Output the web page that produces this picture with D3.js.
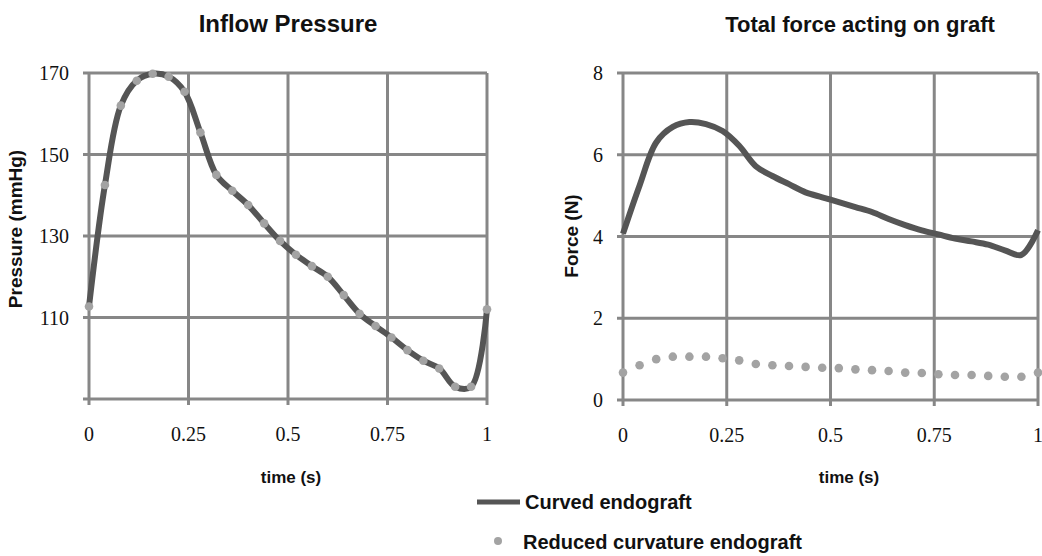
<!DOCTYPE html>
<html>
<head>
<meta charset="utf-8">
<script src="https://cdn.jsdelivr.net/npm/d3@7"></script>
<style>
  html, body { margin: 0; padding: 0; background: #fff; }
  svg { display: block; }
</style>
</head>
<body>
<svg id="chart" width="1042" height="556"></svg>
<script>
// time samples (s)
const times = [0, 0.04, 0.08, 0.12, 0.16, 0.2, 0.24, 0.28, 0.32, 0.36, 0.4, 0.44, 0.48,
  0.52, 0.56, 0.6, 0.64, 0.68, 0.72, 0.76, 0.8, 0.84, 0.88, 0.92, 0.96, 1];

// inflow pressure (mmHg) - both endografts share the same inflow
const pressureCurved = [112.7, 142.5, 162, 168.1, 169.8, 169.1, 165.4, 155.4, 145, 141.1, 137.6,
  133.1, 128.8, 125.4, 122.6, 120, 115.5, 110.9, 107.9, 105.1, 102, 99.4, 97.5, 93, 93, 112];
const pressureReduced = [112.7, 142.5, 162, 168.1, 169.8, 169.1, 165.4, 155.4, 145, 141.1, 137.6,
  133.1, 128.8, 125.4, 122.6, 120, 115.5, 110.9, 107.9, 105.1, 102, 99.4, 97.5, 93, 93, 112];

// total force on graft (N)
const forceCurved = [4.07, 5.25, 6.3, 6.68, 6.8, 6.75, 6.58, 6.22, 5.72, 5.48, 5.28, 5.08, 4.96,
  4.84, 4.72, 4.6, 4.43, 4.28, 4.15, 4.05, 3.95, 3.88, 3.8, 3.66, 3.55, 4.15];
const forceReduced = [0.67, 0.85, 1.0, 1.06, 1.06, 1.06, 1.02, 0.97, 0.88, 0.85, 0.83, 0.81, 0.79,
  0.78, 0.75, 0.73, 0.71, 0.67, 0.66, 0.63, 0.61, 0.61, 0.59, 0.57, 0.57, 0.67];

const xTicks = [0, 0.25, 0.5, 0.75, 1];
const xTickLabels = ["0", "0.25", "0.5", "0.75", "1"];
const pressureTicks = [90, 110, 130, 150, 170];
const pressureTickLabels = ["", "110", "130", "150", "170"];
const forceTicks = [0, 2, 4, 6, 8];
const forceTickLabels = ["0", "2", "4", "6", "8"];

const seriesNames = ["Curved endograft", "Reduced curvature endograft"];

const gridColor = "#878787";
const lineColor = "#555555";
const dotColor = "#a3a3a3";

const svg = d3.select("#chart");

function drawPanel(opt) {
  const x = d3.scaleLinear().domain([0, 1]).range(opt.xRange);
  const y = d3.scaleLinear().domain(opt.yDomain).range(opt.yRange);
  const g = svg.append("g");

  // horizontal grid lines (with little tick stubs on the left)
  g.selectAll(".hgrid")
    .data(opt.yTicks)
    .enter()
    .append("line")
    .attr("x1", opt.xRange[0] - 6)
    .attr("x2", opt.xRange[1])
    .attr("y1", (d) => y(d))
    .attr("y2", (d) => y(d))
    .attr("stroke", gridColor)
    .attr("stroke-width", 3);

  // vertical grid lines (with tick stubs below)
  g.selectAll(".vgrid")
    .data(xTicks)
    .enter()
    .append("line")
    .attr("x1", (d) => x(d))
    .attr("x2", (d) => x(d))
    .attr("y1", opt.yRange[1])
    .attr("y2", opt.yRange[0] + 6)
    .attr("stroke", gridColor)
    .attr("stroke-width", 3);

  // y tick labels
  g.selectAll(".ylab")
    .data(opt.yTicks)
    .enter()
    .append("text")
    .attr("x", opt.xRange[0] - 20)
    .attr("y", (d) => y(d))
    .attr("dy", "0.35em")
    .attr("text-anchor", "end")
    .attr("font-family", "Liberation Serif, Times New Roman, serif")
    .attr("font-size", "20px")
    .attr("fill", "#111")
    .text((d, i) => opt.yTickLabels[i]);

  // x tick labels
  g.selectAll(".xlab")
    .data(xTicks)
    .enter()
    .append("text")
    .attr("x", (d) => x(d))
    .attr("y", opt.yRange[0] + 42)
    .attr("text-anchor", "middle")
    .attr("font-family", "Liberation Serif, Times New Roman, serif")
    .attr("font-size", "20px")
    .attr("fill", "#111")
    .text((d, i) => xTickLabels[i]);

  const line = d3
    .line()
    .x((d, i) => x(times[i]))
    .y((d) => y(d))
    .curve(d3.curveCatmullRom.alpha(0.5));

  g.append("path")
    .datum(opt.curved)
    .attr("d", line)
    .attr("fill", "none")
    .attr("stroke", lineColor)
    .attr("stroke-width", 6)
    .attr("stroke-linejoin", "round");

  g.selectAll(".dot")
    .data(opt.reduced)
    .enter()
    .append("circle")
    .attr("cx", (d, i) => x(times[i]))
    .attr("cy", (d) => y(d))
    .attr("r", 4.3)
    .attr("fill", dotColor);

  // titles
  g.append("text")
    .attr("x", opt.titleX)
    .attr("y", 32)
    .attr("text-anchor", "middle")
    .attr("font-family", "Liberation Sans, Arial, sans-serif")
    .attr("font-weight", "bold")
    .attr("font-size", opt.titleSize)
    .attr("fill", "#111")
    .text(opt.title);

  g.append("text")
    .attr("x", opt.xTitleX)
    .attr("y", 483)
    .attr("text-anchor", "middle")
    .attr("font-family", "Liberation Sans, Arial, sans-serif")
    .attr("font-weight", "bold")
    .attr("font-size", "17px")
    .attr("fill", "#111")
    .text("time (s)");

  g.append("text")
    .attr("transform", `translate(${opt.yTitleX},${opt.yTitleY}) rotate(-90)`)
    .attr("text-anchor", "middle")
    .attr("dy", "0.35em")
    .attr("font-family", "Liberation Sans, Arial, sans-serif")
    .attr("font-weight", "bold")
    .attr("font-size", "19px")
    .attr("fill", "#111")
    .text(opt.yTitle);
}

drawPanel({
  xRange: [89, 487],
  yRange: [399, 73],
  yDomain: [90, 170],
  yTicks: pressureTicks,
  yTickLabels: pressureTickLabels,
  curved: pressureCurved,
  reduced: pressureReduced,
  title: "Inflow Pressure",
  titleX: 288,
  titleSize: "24px",
  xTitleX: 291,
  yTitle: "Pressure (mmHg)",
  yTitleX: 15,
  yTitleY: 229,
});

drawPanel({
  xRange: [623, 1038],
  yRange: [400, 73],
  yDomain: [0, 8],
  yTicks: forceTicks,
  yTickLabels: forceTickLabels,
  curved: forceCurved,
  reduced: forceReduced,
  title: "Total force acting on graft",
  titleX: 860,
  titleSize: "22px",
  xTitleX: 849,
  yTitle: "Force (N)",
  yTitleX: 571,
  yTitleY: 236,
});

// legend
const legend = svg.append("g");
legend.append("line")
  .attr("x1", 477).attr("x2", 520)
  .attr("y1", 502).attr("y2", 502)
  .attr("stroke", lineColor)
  .attr("stroke-width", 5);
legend.append("circle")
  .attr("cx", 498).attr("cy", 541)
  .attr("r", 4)
  .attr("fill", dotColor);
legend.selectAll(".ltext")
  .data(seriesNames)
  .enter()
  .append("text")
  .attr("x", (d, i) => (i === 0 ? 525 : 523))
  .attr("y", (d, i) => (i === 0 ? 509 : 549))
  .attr("font-family", "Liberation Sans, Arial, sans-serif")
  .attr("font-weight", "bold")
  .attr("font-size", "20px")
  .attr("fill", "#111")
  .text((d) => d);
</script>
</body>
</html>
